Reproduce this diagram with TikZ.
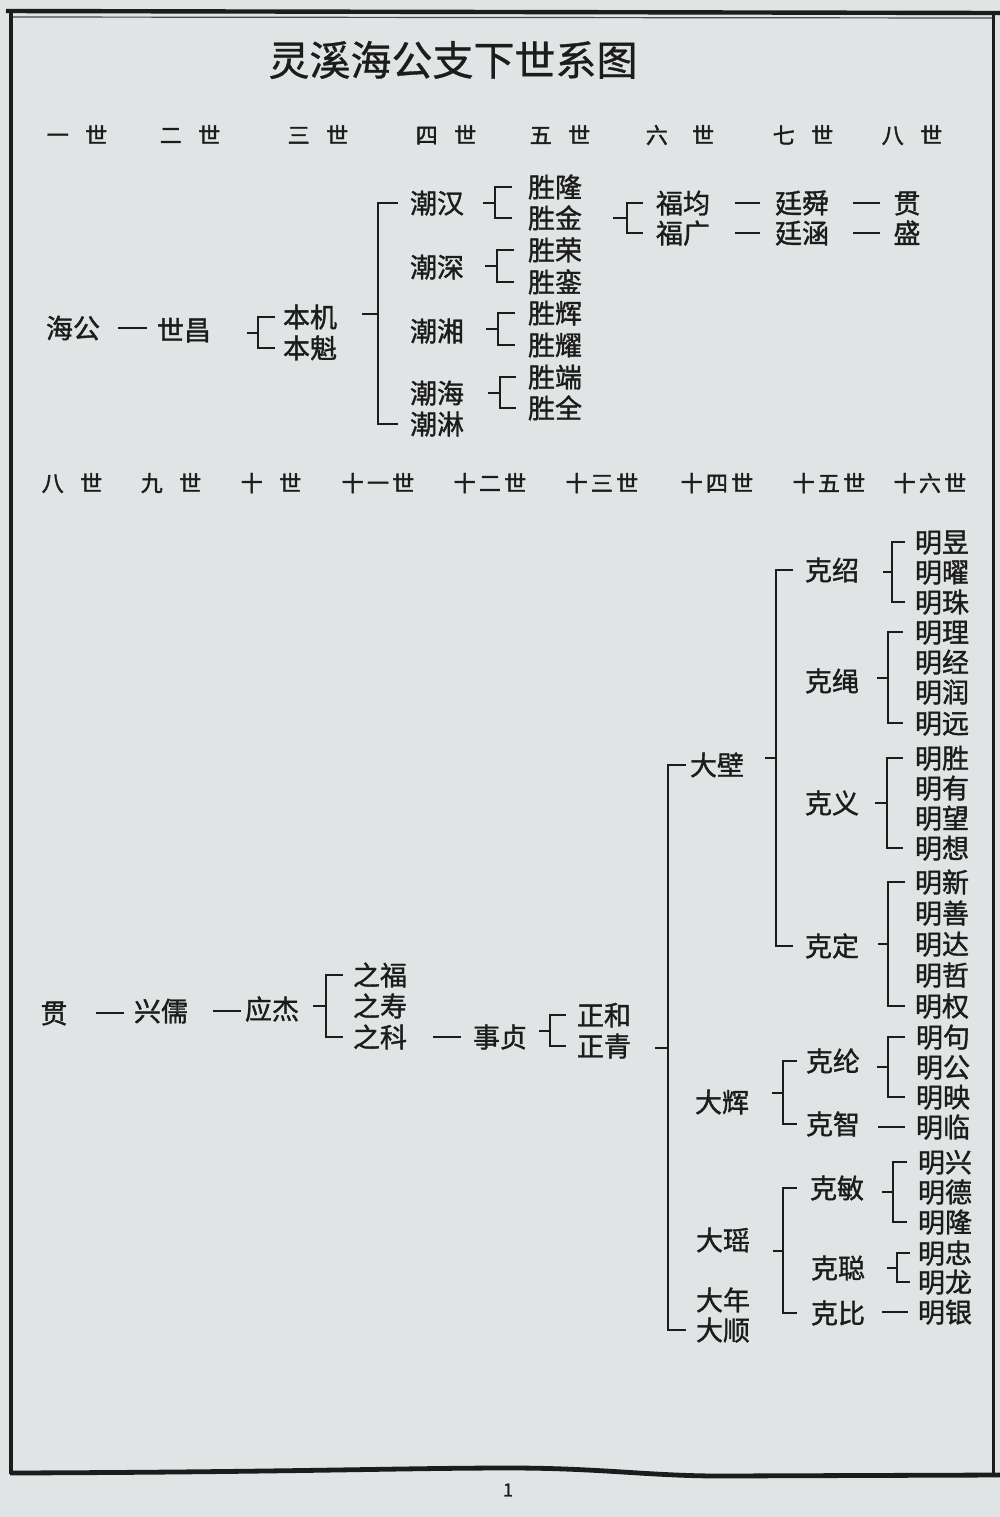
\documentclass[tikz,border=0pt]{standalone}
\usepackage{fontspec}
\setmainfont{Noto Sans CJK SC}
\newfontfamily\namefont[FakeBold=1.3]{Noto Sans CJK SC}
\newfontfamily\headfont[FakeBold=1.8]{Noto Sans CJK SC}
\newfontfamily\titlefont[FakeBold=0.8]{Noto Sans CJK SC}
\usetikzlibrary{calc}
\definecolor{paper}{RGB}{224,228,228}
\definecolor{ink}{RGB}{28,28,28}
\tikzset{
 nm/.style={inner sep=0pt, text height=11.9pt, text depth=1.6pt, font=\namefont\fontsize{13.5}{14}\selectfont, text=ink},
 hd/.style={inner sep=0pt, text height=9.7pt, text depth=1.3pt, font=\headfont\fontsize{11}{12}\selectfont, text=ink},
 conn/.style={draw=ink, line width=1pt},
 frameline/.style={draw=ink, line width=2pt}
}
% bracket: #1 stub start x, #2 vertical x, #3 tick end x, #4 top child, #5 bottom child
\newcommand\fm[5]{%
  \draw[conn] (#3,0 |- #4) -- (#2,0 |- #4) -- (#2,0 |- #5) -- (#3,0 |- #5);
  \path (#2,0 |- #4) coordinate (bt) (#2,0 |- #5) coordinate (bb);
  \coordinate (bm) at ($(bt)!0.5!(bb)$);
  \draw[conn] (bm) -- ++(#1-#2,0);
}
\newcommand\dsh[4]{\draw[conn] (#1,0 |- #3) -- (#2,0 |- #3);}
\begin{document}
\begin{tikzpicture}[x=0.5pt,y=-0.5pt]
\useasboundingbox (0,0) rectangle (1000,1517);
\fill[paper] (0,0) rectangle (1000,1517);
% frame
\draw[frameline, line width=2.2pt] (6,11) -- (1000,13);
\draw[draw=ink!80, line width=0.6pt] (12,17) -- (995,18);
\draw[frameline] (11,10) -- (11,1474);
\draw[frameline, line width=1.5pt] (993,12) -- (993,1474);
\draw[frameline, line width=2.4pt] (10,1473) .. controls (300,1472) and (400,1468) .. (510,1468) .. controls (600,1468) and (650,1476) .. (720,1476) -- (1000,1475);
\node[font=\namefont\fontsize{9}{9}\selectfont, text=ink, inner sep=0pt] (pg) at (508,1490) {1};
% title
\node[font=\titlefont\fontsize{20.5}{22}\selectfont, text=ink, inner sep=0pt] (title) at (453,60) {灵溪海公支下世系图};
% headers row 1
\node[hd] (h1) at (77,135) {一\hspace{0.75em}世};
\node[hd] (h2) at (190,135) {二\hspace{0.75em}世};
\node[hd] (h3) at (318,135) {三\hspace{0.75em}世};
\node[hd] (h4) at (446,135) {四\hspace{0.75em}世};
\node[hd] (h5) at (560,135) {五\hspace{0.75em}世};
\node[hd] (h6) at (680,135) {六\hspace{1.1em}世};
\node[hd] (h7) at (803,135) {七\hspace{0.75em}世};
\node[hd] (h8) at (912,135) {八\hspace{0.75em}世};
% headers row 2
\node[hd] (k8) at (72,483) {八\hspace{0.75em}世};
\node[hd] (k9) at (171,483) {九\hspace{0.75em}世};
\node[hd] (k10) at (271,483) {十\hspace{0.75em}世};
\node[hd] (k11) at (378,483) {十\hspace{0.15em}一\hspace{0.15em}世};
\node[hd] (k12) at (490,483) {十\hspace{0.15em}二\hspace{0.15em}世};
\node[hd] (k13) at (602,483) {十\hspace{0.15em}三\hspace{0.15em}世};
\node[hd] (k14) at (717,483) {十\hspace{0.15em}四\hspace{0.15em}世};
\node[hd] (k15) at (829,483) {十\hspace{0.15em}五\hspace{0.15em}世};
\node[hd] (k16) at (930,483) {十\hspace{0.15em}六\hspace{0.15em}世};
% ===== upper tree =====
\node[nm] (hg) at (73,328) {海公};
\node[nm] (sc) at (184,330) {世昌};
\node[nm] (bj) at (310,317) {本机};
\node[nm] (bk) at (310,348) {本魁};
\node[nm] (c1) at (437,203) {潮汉};
\node[nm] (c2) at (437,267) {潮深};
\node[nm] (c3) at (437,331) {潮湘};
\node[nm] (c4) at (437,393) {潮海};
\node[nm] (c5) at (437,424) {潮淋};
\node[nm] (s1) at (555,187) {胜隆};
\node[nm] (s2) at (555,218) {胜金};
\node[nm] (s3) at (555,250) {胜荣};
\node[nm] (s4) at (555,282) {胜銮};
\node[nm] (s5) at (555,313) {胜辉};
\node[nm] (s6) at (555,345) {胜耀};
\node[nm] (s7) at (555,377) {胜端};
\node[nm] (s8) at (555,408) {胜全};
\node[nm] (f1) at (683,203) {福均};
\node[nm] (f2) at (683,233) {福广};
\node[nm] (t1) at (802,203) {廷舜};
\node[nm] (t2) at (802,233) {廷涵};
\node[nm] (g1) at (907,203) {贯};
\node[nm] (g2) at (907,233) {盛};
\dsh{118}{147}{hg}{sc}
\fm{247}{258}{275}{bj}{bk}
\fm{362}{378}{398}{c1}{c5}
\fm{483}{495}{512}{s1}{s2}
\fm{485}{497}{514}{s3}{s4}
\fm{486}{498}{515}{s5}{s6}
\fm{488}{500}{516}{s7}{s8}
\fm{613}{627}{643}{f1}{f2}
\dsh{735}{760}{f1}{t1}
\dsh{735}{760}{f2}{t2}
\dsh{853}{880}{t1}{g1}
\dsh{853}{880}{t2}{g2}
% ===== lower tree =====
\node[nm] (r0) at (54,1013) {贯};
\node[nm] (xr) at (161,1011) {兴儒};
\node[nm] (yj) at (272,1009) {应杰};
\node[nm] (z1) at (380,975) {之福};
\node[nm] (z2) at (380,1006) {之寿};
\node[nm] (z3) at (380,1037) {之科};
\node[nm] (sz) at (500,1037) {事贞};
\node[nm] (zh) at (604,1015) {正和};
\node[nm] (zq) at (604,1046) {正青};
\dsh{96}{124}{r0}{xr}
\dsh{213}{241}{xr}{yj}
\fm{313}{326}{343}{z1}{z3}
\dsh{433}{461}{z3}{sz}
\fm{539}{550}{566}{zh}{zq}
\node[nm] (dbi) at (717,765) {大壁};
\node[nm] (dh) at (722,1102) {大辉};
\node[nm] (dy) at (723,1240) {大瑶};
\node[nm] (dn) at (723,1300) {大年};
\node[nm] (ds) at (723,1330) {大顺};
\fm{655}{668}{686}{dbi}{ds}
\node[nm] (ks) at (832,570) {克绍};
\node[nm] (ksh) at (832,681) {克绳};
\node[nm] (ky) at (832,803) {克义};
\node[nm] (kd) at (832,946) {克定};
\fm{765}{776}{793}{ks}{kd}
\node[nm] (kl) at (833,1061) {克纶};
\node[nm] (kz) at (833,1124) {克智};
\fm{772}{783}{797}{kl}{kz}
\node[nm] (km) at (837,1188) {克敏};
\node[nm] (kc) at (838,1268) {克聪};
\node[nm] (kb) at (838,1313) {克比};
\fm{773}{783}{797}{km}{kb}
% 明 generation
\node[nm] (m1) at (942,542) {明昱};
\node[nm] (m2) at (942,572) {明曜};
\node[nm] (m3) at (942,602) {明珠};
\fm{883}{892}{905}{m1}{m3}
\node[nm] (m4) at (942,632) {明理};
\node[nm] (m5) at (942,662) {明经};
\node[nm] (m6) at (942,692) {明润};
\node[nm] (m7) at (942,723) {明远};
\fm{877}{888}{903}{m4}{m7}
\node[nm] (m8) at (942,758) {明胜};
\node[nm] (m9) at (942,788) {明有};
\node[nm] (m10) at (942,818) {明望};
\node[nm] (m11) at (942,848) {明想};
\fm{875}{887}{903}{m8}{m11}
\node[nm] (m12) at (942,882) {明新};
\node[nm] (m13) at (942,913) {明善};
\node[nm] (m14) at (942,944) {明达};
\node[nm] (m15) at (942,975) {明哲};
\node[nm] (m16) at (942,1006) {明权};
\fm{878}{888}{905}{m12}{m16}
\node[nm] (m17) at (943,1037) {明句};
\node[nm] (m18) at (943,1067) {明公};
\node[nm] (m19) at (943,1097) {明映};
\fm{877}{888}{905}{m17}{m19}
\node[nm] (m20) at (943,1127) {明临};
\dsh{878}{905}{m20}{kz}
\node[nm] (m21) at (945,1162) {明兴};
\node[nm] (m22) at (945,1192) {明德};
\node[nm] (m23) at (945,1222) {明隆};
\fm{882}{893}{907}{m21}{m23}
\node[nm] (m24) at (945,1253) {明忠};
\node[nm] (m25) at (945,1282) {明龙};
\fm{887}{897}{910}{m24}{m25}
\node[nm] (m26) at (945,1312) {明银};
\dsh{882}{908}{m26}{kb}
\end{tikzpicture}
\end{document}
